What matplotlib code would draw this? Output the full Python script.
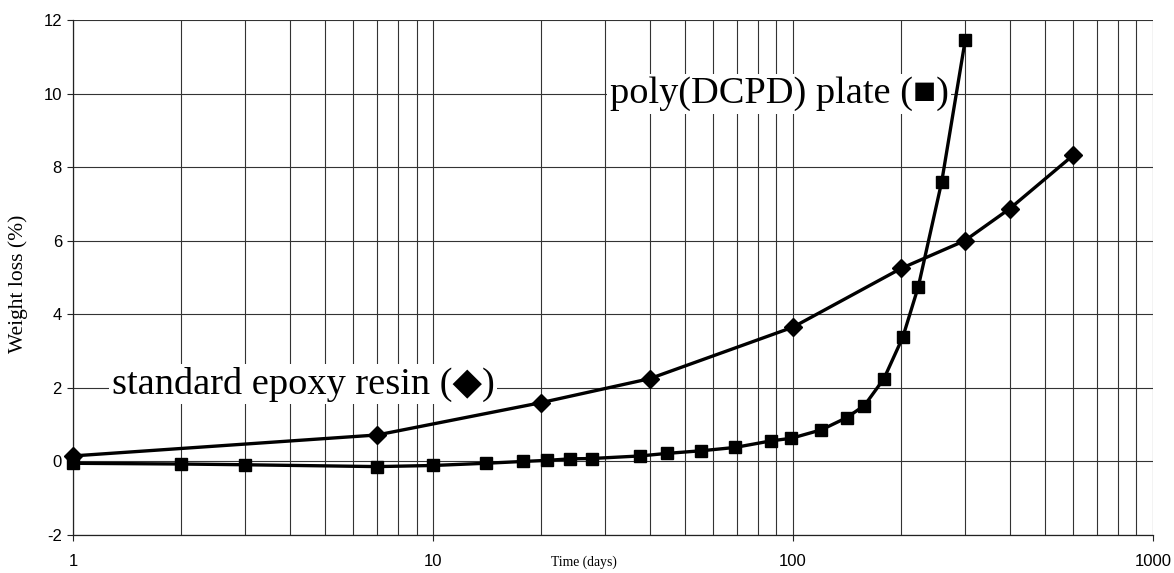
import numpy as np
import matplotlib
matplotlib.use("Agg")
import matplotlib.pyplot as plt
from matplotlib.ticker import LogLocator, NullFormatter, FixedLocator, FixedFormatter

plt.rcParams["axes.unicode_minus"] = False

# --- data ---
epoxy_days = [1, 7, 20, 40, 100, 200, 300, 400, 600]
epoxy_loss = [0.15, 0.72, 1.6, 2.25, 3.65, 5.25, 6.0, 6.87, 8.32]

dcpd_days = [1, 2, 3, 7, 10, 14, 17.8, 20.8, 24, 27.6, 37.7, 44.8, 55.6, 69, 87,
             99, 120, 141, 158, 179, 202, 223, 259, 301]
dcpd_loss = [-0.05, -0.07, -0.09, -0.14, -0.11, -0.05, 0.0, 0.03, 0.07, 0.08, 0.15,
             0.22, 0.29, 0.38, 0.56, 0.63, 0.86, 1.19, 1.52, 2.25, 3.38, 4.75, 7.6, 11.45]

x_ticks = [1, 10, 100, 1000]
x_ticklabels = ["1", "10", "100", "1000"]
y_ticks = [-2, 0, 2, 4, 6, 8, 10, 12]

fig = plt.figure(figsize=(11.74, 5.73), dpi=100)
ax = fig.add_axes([0.0622, 0.0663, 0.9198, 0.8987])

ax.set_xscale("log")
ax.set_xlim(1, 1000)
ax.set_ylim(-2, 12)

# grid: every log decade subdivision vertically, every 2 units horizontally
ax.xaxis.set_major_locator(FixedLocator(x_ticks))
ax.xaxis.set_major_formatter(FixedFormatter(x_ticklabels))
ax.xaxis.set_minor_locator(LogLocator(base=10, subs=np.arange(2, 10)))
ax.xaxis.set_minor_formatter(NullFormatter())
ax.set_yticks(y_ticks)
ax.grid(True, which="both", axis="x", color="#333333", linewidth=0.8)
ax.grid(True, which="major", axis="y", color="#333333", linewidth=0.8)
ax.set_axisbelow(True)

for s in ["top", "right"]:
    ax.spines[s].set_visible(False)
for s in ["left", "bottom"]:
    ax.spines[s].set_color("#222222")
    ax.spines[s].set_linewidth(0.9)

ax.tick_params(axis="both", which="major", direction="out", length=4, width=0.8,
               labelsize=12, color="#222222")
ax.tick_params(axis="x", which="minor", length=0)
ax.tick_params(axis="x", pad=10)
ax.tick_params(axis="y", pad=4)
for lab in ax.get_xticklabels() + ax.get_yticklabels():
    lab.set_family("Liberation Sans")

ax.plot(epoxy_days, epoxy_loss, color="black", linewidth=2.4, marker="D",
        markersize=9, clip_on=False, zorder=3)
ax.plot(dcpd_days, dcpd_loss, color="black", linewidth=2.4, marker="s",
        markersize=9, clip_on=False, zorder=3)

serif = ["Liberation Serif", "DejaVu Serif", "DejaVu Sans"]
ax.text(1.28, 2.1, "standard epoxy resin (\u25C6)", fontsize=27.6, family=serif,
        ha="left", va="center", zorder=4,
        bbox=dict(facecolor="white", edgecolor="none", pad=2))
ax.text(31, 10.0, "poly(DCPD) plate (\u25A0)", fontsize=27.6, family=serif,
        ha="left", va="center", zorder=4,
        bbox=dict(facecolor="white", edgecolor="none", pad=2))

ax.set_xlabel("Time (days)", family=serif, fontsize=9.8)
ax.xaxis.set_label_coords(0.473, -0.04)
ax.set_ylabel("Weight loss (%)", family=serif, fontsize=15.5)
ax.yaxis.set_label_coords(-0.042, 0.487)

fig.savefig("out.png", dpi=100)
